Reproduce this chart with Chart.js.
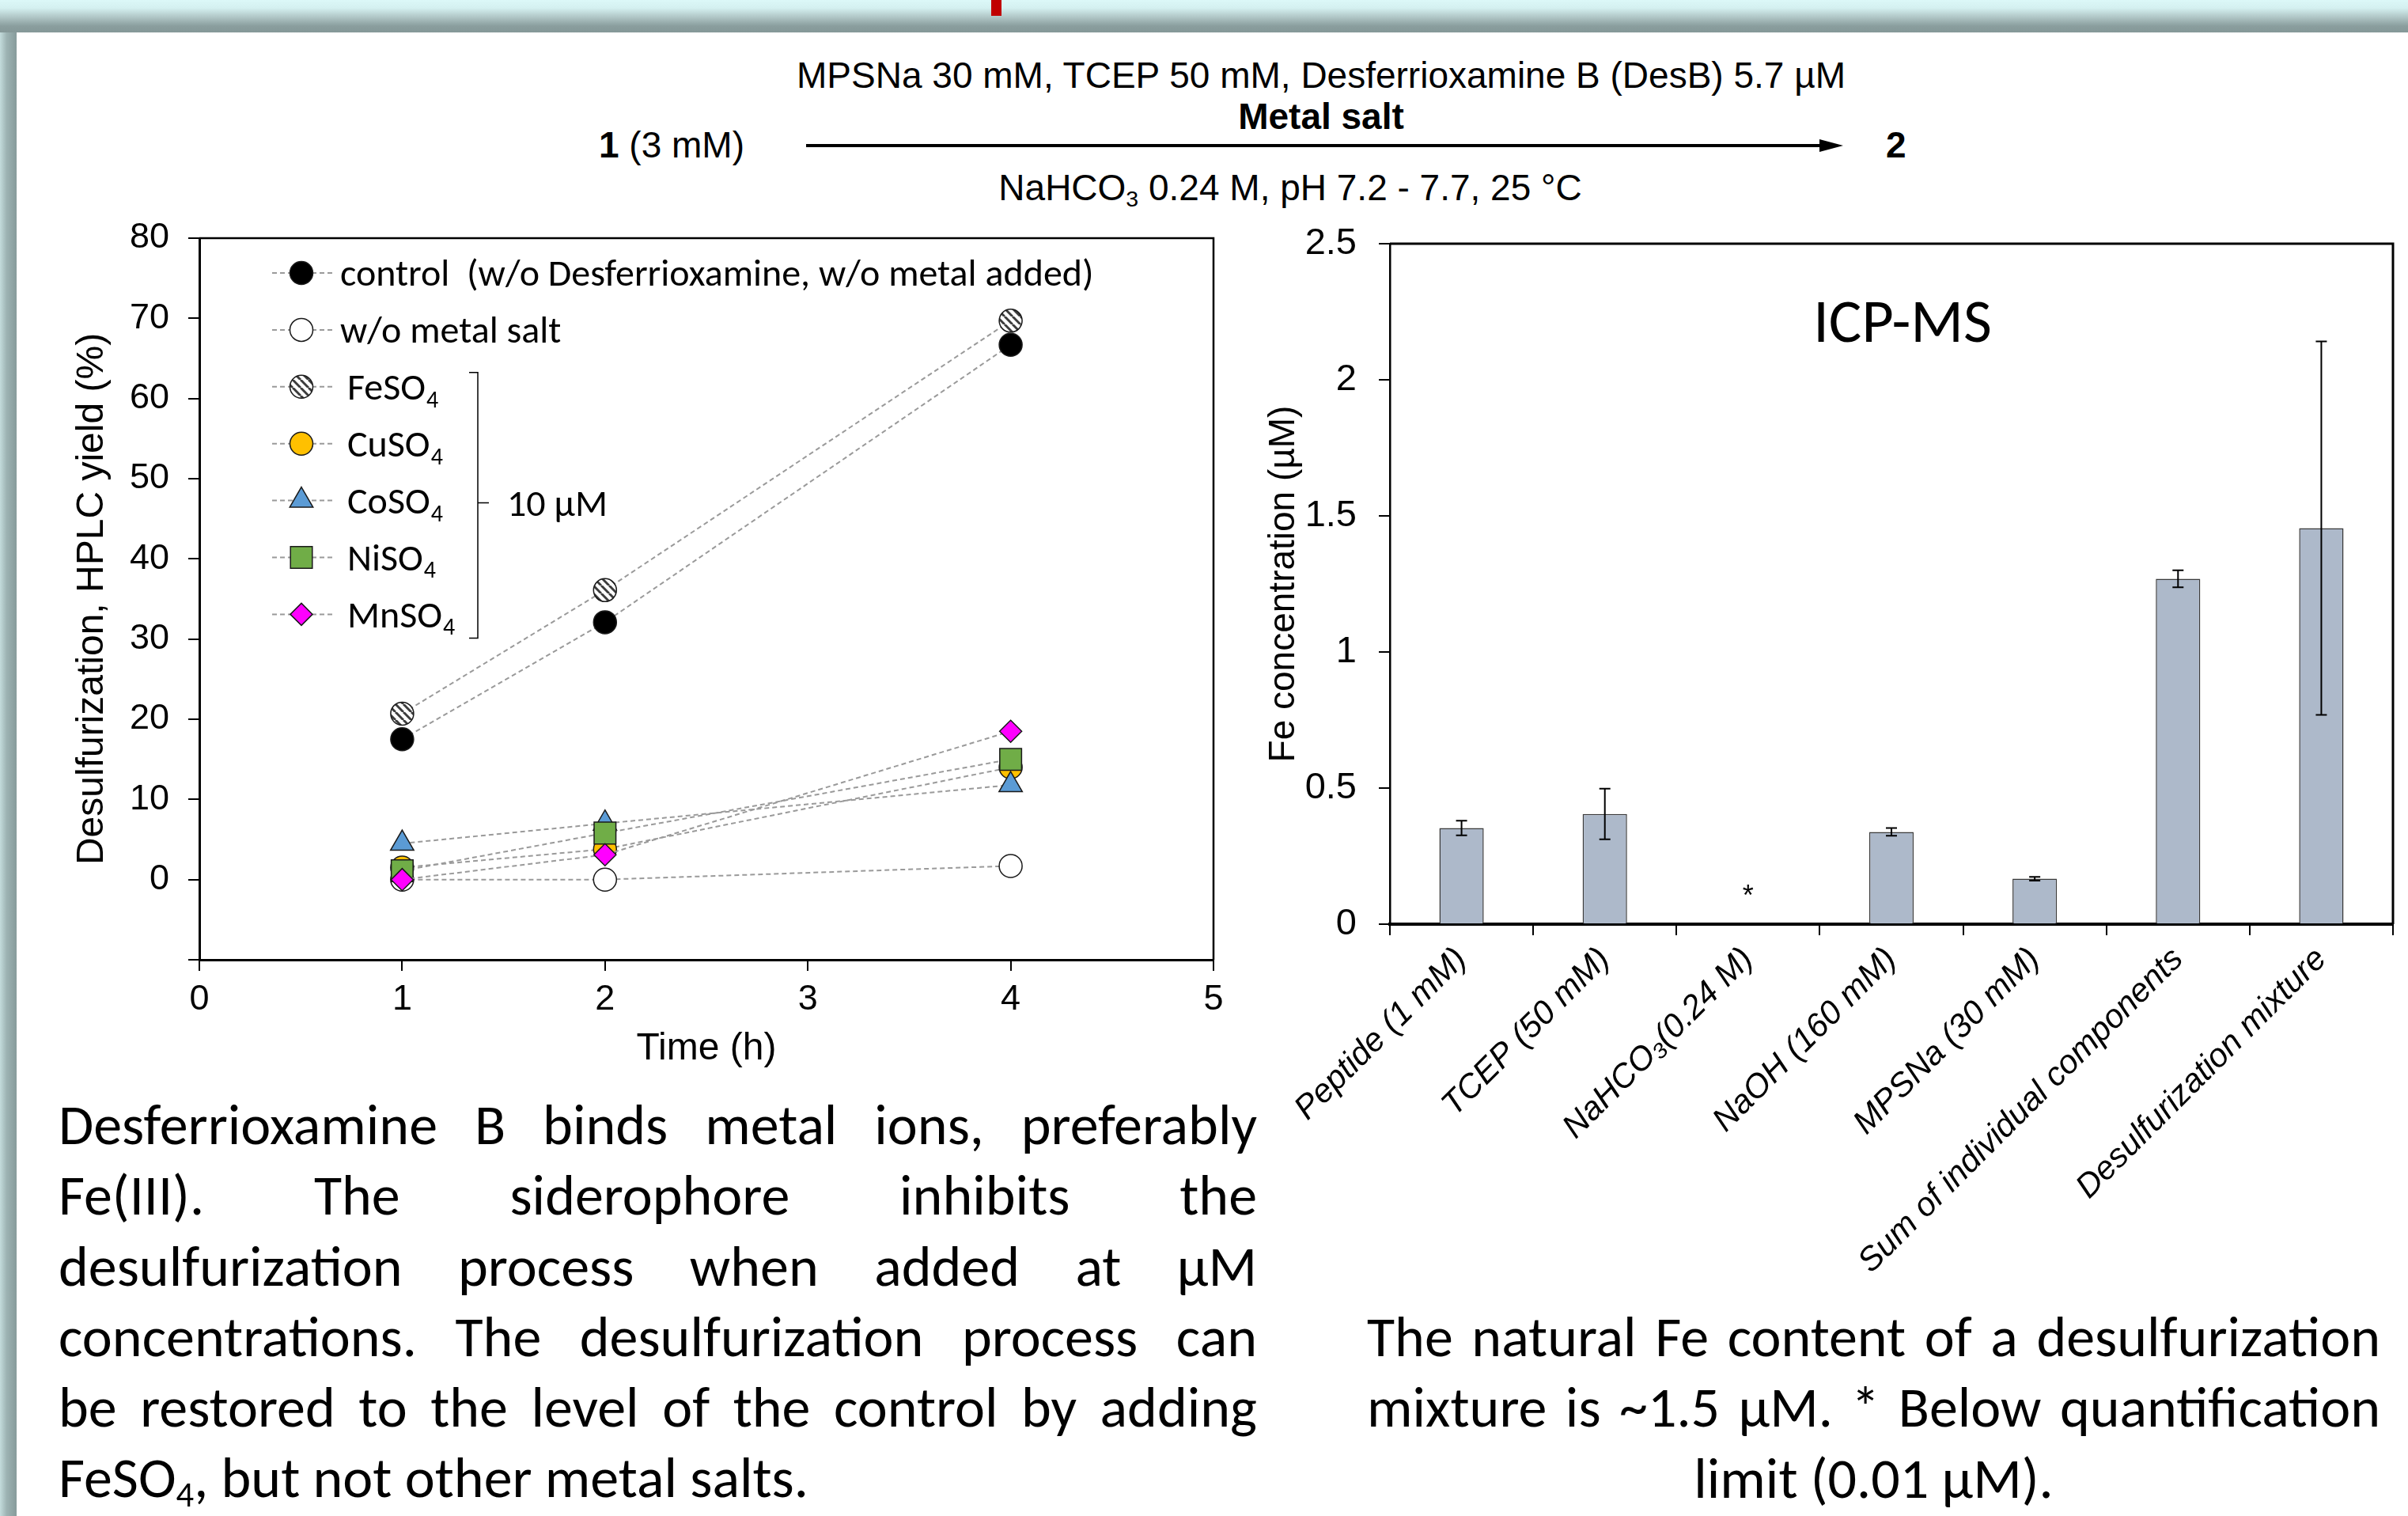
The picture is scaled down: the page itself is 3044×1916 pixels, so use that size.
<!DOCTYPE html>
<html>
<head>
<meta charset="utf-8">
<script src="https://cdn.jsdelivr.net/npm/chart.js@4.4.1/dist/chart.umd.min.js"></script>
<style>
  body { margin: 0; width: 3044px; height: 1916px; position: relative; background: #fff; overflow: hidden;
         font-family: "Liberation Sans", Arial, sans-serif; color: #000; }
  .band { position: absolute; left: 0; top: 0; width: 3044px; height: 41px;
          background: linear-gradient(#dcf8f8 0%, #d4f0f0 25%, #adc3c3 55%, #8a9e9e 80%, #859898 100%); }
  .strip { position: absolute; left: 0; top: 0; width: 21px; height: 1916px;
           background: linear-gradient(90deg, #c4dcdc 0%, #9db3b3 40%, #879b9b 100%); }
  .mark { position: absolute; left: 1253px; top: 0; width: 13px; height: 20px; background: #c00000; }
  .txt { position: absolute; font-size: 46px; line-height: 50px; white-space: nowrap; }
  .ctr { text-align: center; width: 2000px; }
  sub { font-size: 0.62em; vertical-align: -0.28em; line-height: 0; }
  .box { position: absolute; }
  .para { position: absolute; font-family: Carlito, Calibri, Lato, sans-serif; font-size: 72px; line-height: 89.3px; }
  .para div { white-space: nowrap; text-align: justify; text-align-last: justify; }
  .para div.left { text-align-last: left; }
  .para div.center { text-align-last: center; }
</style>
</head>
<body>
<div class="strip"></div>
<div class="band"></div>
<div class="mark"></div>

<div class="txt ctr" style="left:670px; top:70px;">MPSNa 30 mM, TCEP 50 mM, Desferrioxamine B (DesB) 5.7 µM</div>
<div class="txt ctr" style="left:670px; top:122px; font-weight:bold;">Metal salt</div>
<div class="txt" style="left:757px; top:158px;"><b>1</b> (3 mM)</div>
<svg style="position:absolute; left:1010px; top:170px;" width="1340" height="30">
  <line x1="9" y1="14" x2="1296" y2="14" stroke="#000" stroke-width="4"/>
  <polygon points="1290,6 1320,14 1290,22" fill="#000"/>
</svg>
<div class="txt" style="left:2384px; top:158px; font-weight:bold;">2</div>
<div class="txt ctr" style="left:631px; top:212px;">NaHCO<sub>3</sub> 0.24 M, pH 7.2 - 7.7, 25 °C</div>

<div class="box" style="left:60px; top:250px;"><canvas id="yieldChart" width="1500" height="1130"></canvas></div>
<div class="box" style="left:1570px; top:250px;"><canvas id="ironChart" width="1474" height="1440"></canvas></div>

<div class="para" style="left:74px; top:1377px; width:1515px;">
  <div>Desferrioxamine B binds metal ions, preferably</div>
  <div>Fe(III). The siderophore inhibits the</div>
  <div>desulfurization process when added at µM</div>
  <div>concentrations. The desulfurization process can</div>
  <div>be restored to the level of the control by adding</div>
  <div class="left">FeSO<sub>4</sub>, but not other metal salts.</div>
</div>
<div class="para" style="left:1728px; top:1645px; width:1281px;">
  <div>The natural Fe content of a desulfurization</div>
  <div>mixture is ~1.5 µM. * Below quantification</div>
  <div class="center">limit (0.01 µM).</div>
</div>

<script>
// ---- left panel: desulfurization yield vs time ----
const timeHours = [1, 2, 4];
const controlYield = [17.5, 32.1, 66.7];
const noMetalYield = [0.0, 0.0, 1.7];
const feso4Yield = [20.7, 36.1, 69.7];
const cuso4Yield = [1.5, 3.8, 14.0];
const coso4Yield = [4.5, 7.0, 11.8];
const niso4Yield = [1.1, 5.8, 15.0];
const mnso4Yield = [0.0, 3.1, 18.5];
const seriesNames = ['control  (w/o Desferrioxamine, w/o metal added)', 'w/o metal salt',
  'FeSO4', 'CuSO4', 'CoSO4', 'NiSO4', 'MnSO4'];
const yTicks = [-10, 0, 10, 20, 30, 40, 50, 60, 70, 80];

// ---- right panel: ICP-MS iron content ----
const sampleNames = ['Peptide (1 mM)', 'TCEP (50 mM)', 'NaHCO\u2083(0.24 M)', 'NaOH (160 mM)',
  'MPSNa (30 mM)', 'Sum of individual components', 'Desulfurization mixture'];
const feConc = [0.353, 0.405, null, 0.339, 0.167, 1.269, 1.455];
const feErr = [0.027, 0.093, null, 0.014, 0.007, 0.031, 0.686];

Chart.defaults.font.family = '"Liberation Sans", Arial, sans-serif';
Chart.defaults.color = '#000';
const legendFont = 'Carlito, Calibri, Lato, sans-serif';

function stripes() {
  const c = document.createElement('canvas');
  c.width = 10; c.height = 10;
  const g = c.getContext('2d');
  g.fillStyle = '#fff';
  g.fillRect(0, 0, 10, 10);
  g.strokeStyle = '#3c3c3c';
  g.lineWidth = 3;
  for (const o of [-10, 0, 10]) {
    g.beginPath(); g.moveTo(o, 0); g.lineTo(o + 10, 10); g.stroke();
  }
  return g.createPattern(c, 'repeat');
}

const markerStyles = [
  { pointStyle: 'circle', pointRadius: 14.5, pointBackgroundColor: '#000' },
  { pointStyle: 'circle', pointRadius: 14.5, pointBackgroundColor: '#fff' },
  { pointStyle: 'circle', pointRadius: 14.5, pointBackgroundColor: stripes() },
  { pointStyle: 'circle', pointRadius: 14.5, pointBackgroundColor: '#ffc000' },
  { pointStyle: 'triangle', pointRadius: 17, pointBackgroundColor: '#5b9bd5' },
  { pointStyle: 'rect', pointRadius: 19.5, pointBackgroundColor: '#70ad47' },
  { pointStyle: 'rectRot', pointRadius: 14, pointBackgroundColor: '#ff00ff' }
];
const yieldSeries = [controlYield, noMetalYield, feso4Yield, cuso4Yield, coso4Yield, niso4Yield, mnso4Yield];

const framePlugin = {
  id: 'frame',
  afterDraw(chart, args, opts) {
    const { ctx, chartArea: { left, top, right, bottom } } = chart;
    ctx.save();
    ctx.strokeStyle = '#000';
    ctx.lineWidth = opts.width || 2;
    ctx.beginPath();
    ctx.moveTo(left, top);
    ctx.lineTo(right, top);
    ctx.lineTo(right, bottom);
    ctx.stroke();
    ctx.restore();
  }
};

function drawFormula(ctx, text, x, y, size) {
  const base = y + size * 0.34;
  const m = text.match(/^(.*SO)(\d)$/);
  ctx.font = size + 'px ' + legendFont;
  ctx.textBaseline = 'alphabetic';
  ctx.textAlign = 'left';
  if (!m) { ctx.fillText(text, x, base); return; }
  ctx.fillText(m[1], x, base);
  const w = ctx.measureText(m[1]).width;
  ctx.font = Math.round(size * 0.62) + 'px ' + legendFont;
  ctx.fillText(m[2], x + w + 1, base + size * 0.2);
}

const seriesLegend = {
  id: 'seriesLegend',
  afterDraw(chart) {
    const { ctx, chartArea } = chart;
    const x0 = chartArea.left, y0 = chartArea.top + 44, step = 71.9;
    ctx.save();
    chart.data.datasets.forEach((ds, i) => {
      const y = y0 + i * step;
      ctx.strokeStyle = ds.borderColor;
      ctx.lineWidth = ds.borderWidth;
      ctx.setLineDash(ds.borderDash);
      ctx.beginPath(); ctx.moveTo(x0 + 92, y); ctx.lineTo(x0 + 169, y); ctx.stroke();
      ctx.setLineDash([]);
      ctx.fillStyle = ds.pointBackgroundColor;
      ctx.strokeStyle = ds.pointBorderColor;
      ctx.lineWidth = ds.pointBorderWidth;
      Chart.helpers.drawPoint(ctx, { pointStyle: ds.pointStyle, radius: ds.pointRadius,
        borderWidth: ds.pointBorderWidth, rotation: 0 }, x0 + 129, y);
      ctx.fillStyle = '#000';
      drawFormula(ctx, ds.label, x0 + (i < 2 ? 178 : 187), y, 48);
    });
    // bracket grouping the metal salts
    const bx = x0 + 352, bTop = y0 + 2 * step - 18, bBot = y0 + 6 * step + 30, bMid = y0 + 4 * step + 3;
    ctx.strokeStyle = '#000';
    ctx.lineWidth = 1.5;
    ctx.beginPath();
    ctx.moveTo(bx - 11, bTop); ctx.lineTo(bx, bTop); ctx.lineTo(bx, bBot); ctx.lineTo(bx - 11, bBot);
    ctx.moveTo(bx, bMid); ctx.lineTo(bx + 14, bMid);
    ctx.stroke();
    ctx.fillStyle = '#000';
    ctx.font = '48px ' + legendFont;
    ctx.textBaseline = 'alphabetic';
    ctx.fillText('10 µM', x0 + 389, bMid + 16);
    ctx.restore();
  }
};

new Chart(document.getElementById('yieldChart'), {
  type: 'line',
  data: {
    datasets: yieldSeries.map((vals, i) => Object.assign({
      label: seriesNames[i],
      data: timeHours.map((t, k) => ({ x: t, y: vals[k] })),
      borderColor: '#9a9a9a',
      borderWidth: 2,
      borderDash: [6, 4],
      pointBorderColor: '#1a1a1a',
      pointBorderWidth: 1.5,
      order: 6 - i
    }, markerStyles[i]))
  },
  options: {
    responsive: false,
    animation: false,
    devicePixelRatio: 1,
    layout: { padding: { top: 51, right: 26, left: 0, bottom: 0 } },
    scales: {
      x: {
        type: 'linear', min: 0, max: 5,
        ticks: { stepSize: 1, font: { size: 45 }, padding: 10 },
        grid: { drawOnChartArea: false, tickLength: 14, color: '#000', lineWidth: 2 },
        border: { color: '#000', width: 3 },
        title: { display: true, text: 'Time (h)', font: { size: 48 }, padding: { bottom: 25 } },
        afterFit: s => { s.height = 167; }
      },
      y: {
        type: 'linear', min: -10, max: 80,
        afterBuildTicks: s => { s.ticks = yTicks.map(v => ({ value: v })); },
        ticks: { font: { size: 45 }, padding: 24, callback: v => (v < 0 ? '' : v) },
        grid: { drawOnChartArea: false, tickLength: 14, color: '#000', lineWidth: 2 },
        border: { color: '#000', width: 3 },
        title: { display: true, text: 'Desulfurization, HPLC yield (%)', font: { size: 48 }, padding: { top: 28 } },
        afterFit: s => { s.width = 192; }
      }
    },
    plugins: { legend: { display: false }, tooltip: { enabled: false }, frame: { width: 2.5 } }
  },
  plugins: [framePlugin, seriesLegend]
});

const errorBars = {
  id: 'errorBars',
  afterDatasetsDraw(chart) {
    const { ctx, scales: { x, y } } = chart;
    ctx.save();
    ctx.strokeStyle = '#000';
    ctx.lineWidth = 2;
    feConc.forEach((v, i) => {
      const px = x.getPixelForValue(i);
      if (v == null) {
        ctx.fillStyle = '#000';
        ctx.font = '36px "Liberation Sans", Arial, sans-serif';
        ctx.textAlign = 'center';
        ctx.textBaseline = 'middle';
        ctx.fillText('*', px, y.getPixelForValue(0.1));
        return;
      }
      const t = y.getPixelForValue(v + feErr[i]), b = y.getPixelForValue(v - feErr[i]);
      ctx.beginPath();
      ctx.moveTo(px, t); ctx.lineTo(px, b);
      ctx.moveTo(px - 7, t); ctx.lineTo(px + 7, t);
      ctx.moveTo(px - 7, b); ctx.lineTo(px + 7, b);
      ctx.stroke();
    });
    ctx.restore();
  }
};

const icpTitle = {
  id: 'icpTitle',
  afterDraw(chart) {
    const { ctx, chartArea } = chart;
    ctx.save();
    ctx.fillStyle = '#000';
    ctx.font = '78px ' + legendFont;
    ctx.textAlign = 'center';
    ctx.textBaseline = 'middle';
    ctx.fillText('ICP-MS', chartArea.left + 648, chartArea.top + 104);
    ctx.restore();
  }
};

new Chart(document.getElementById('ironChart'), {
  type: 'bar',
  data: {
    labels: sampleNames,
    datasets: [{
      data: feConc,
      backgroundColor: '#adb9ca',
      borderColor: '#3a3a3a',
      borderWidth: 1.5,
      barPercentage: 0.31,
      categoryPercentage: 1
    }]
  },
  options: {
    responsive: false,
    animation: false,
    devicePixelRatio: 1,
    layout: { padding: { top: 58, right: 19, left: 0, bottom: 0 } },
    scales: {
      x: {
        ticks: { font: { size: 42, style: 'italic' }, minRotation: 45, maxRotation: 45, autoSkip: false, padding: 6 },
        grid: { drawOnChartArea: false, offset: true, tickLength: 14, color: '#000', lineWidth: 2 },
        border: { color: '#000', width: 4 },
        afterFit: s => { s.height = 522; }
      },
      y: {
        min: 0, max: 2.5,
        ticks: { stepSize: 0.5, font: { size: 47 }, padding: 28, callback: v => String(v) },
        grid: { drawOnChartArea: false, tickLength: 14, color: '#000', lineWidth: 2 },
        border: { color: '#000', width: 2.5 },
        title: { display: true, text: 'Fe concentration (µM)', font: { size: 46 }, padding: { top: 26 } },
        afterFit: s => { s.width = 187; }
      }
    },
    plugins: { legend: { display: false }, tooltip: { enabled: false }, frame: { width: 3 } }
  },
  plugins: [framePlugin, errorBars, icpTitle]
});
</script>
</body>
</html>
